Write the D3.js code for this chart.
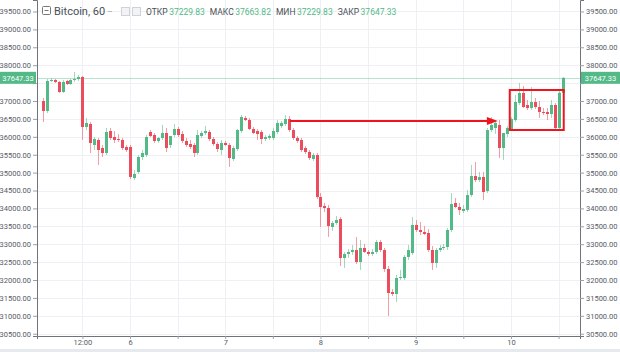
<!DOCTYPE html>
<html>
<head>
<meta charset="utf-8">
<script src="https://cdn.jsdelivr.net/npm/d3@7"></script>
<style>
  body { margin: 0; background: #fff; }
  svg { display: block; font-family: Roboto, sans-serif; }
</style>
</head>
<body>
<div id="container"></div>
<script>
// hourly BTC candles, 5 Jun 02:00 .. 10 Jun 13:00 (UTC)
const firstBar = '2021-06-05T02:00'
const lastBar = '2021-06-10T13:00'

const open = [
  37000, 36721, 37559, 37587, 37531, 37251, 37559, 37475, 37587, 37614,
  37670, 36274, 36358, 35771, 35911, 35687, 35548, 36162, 35995, 35939,
  35911, 35715, 35715, 34849, 35017, 35436, 35492, 36134, 36050, 35883,
  35967, 36106, 35771, 36050, 36218, 36078, 35883, 35799, 35771, 35548,
  36022, 36106, 36134, 35939, 35799, 35631, 35827, 35771, 35380, 35659,
  36162, 36525, 36469, 36218, 36162, 36134, 35939, 35967, 35967, 36134,
  36302, 36358, 36497, 36190, 35967, 35911, 35687, 35576, 35380, 35492,
  34319, 34068, 34012, 33481, 33593, 33704, 32615, 32727, 32783, 32838,
  32503, 32894, 32783, 32727, 32783, 33062, 32838, 32308, 31665, 31609,
  32056, 32056, 32643, 32755, 33537, 33397, 33341, 33313, 32838, 32475,
  32838, 32894, 32922, 33397, 34151, 34040, 33928, 33956, 34374, 34905,
  34793, 34877, 34486, 36190, 36246, 36330, 35687, 36078, 36218, 36469,
  36944, 37223, 36888, 36804, 36972, 36832, 36693, 36693, 36637, 36888,
  36246, 37229.83
]
const high = [
  37084, 37614, 37642, 37614, 37559, 37587, 37587, 37614, 37810, 37726,
  37698, 36525, 36413, 35995, 35967, 35771, 36246, 36246, 36162, 36078,
  35967, 35771, 35771, 35073, 35492, 35631, 36050, 36190, 36106, 35995,
  36330, 36246, 35967, 36358, 36274, 36162, 35967, 35911, 35827, 36190,
  36162, 36302, 36190, 35995, 35855, 35911, 35883, 35827, 35743, 36218,
  36609, 36581, 36525, 36274, 36218, 36190, 36050, 36078, 36246, 36469,
  36441, 36609, 36581, 36246, 36022, 35967, 35743, 35631, 35548, 35548,
  34430, 34151, 34095, 33649, 33788, 33760, 32783, 32866, 32978, 33202,
  33117, 33006, 32838, 32866, 33117, 33117, 32894, 32392, 31749, 32140,
  32280, 32699, 32978, 33760, 33676, 33621, 33509, 33425, 32950, 32894,
  32978, 33006, 33453, 34430, 34291, 34151, 34095, 34514, 35213, 35296,
  35017, 35017, 36246, 36553, 36469, 36469, 35911, 36302, 36553, 37168,
  37503, 37419, 37028, 37391, 37084, 37000, 36804, 36804, 37028, 36944,
  37279, 37663.82
]
const low = [
  36413, 36665, 37531, 37503, 37223, 37223, 37447, 37447, 37531, 37559,
  35911, 36190, 35548, 35631, 35213, 35436, 35492, 35911, 35827, 35855,
  35631, 35576, 34821, 34793, 34961, 35352, 35436, 35995, 35827, 35827,
  35911, 35576, 35687, 35995, 35995, 35827, 35715, 35659, 35436, 35492,
  35967, 36050, 35883, 35743, 35576, 35492, 35743, 35157, 35324, 35603,
  36106, 36441, 36190, 36078, 35911, 35799, 35883, 35911, 35911, 36078,
  36246, 36302, 36134, 35911, 35827, 35576, 35520, 35352, 35324, 34263,
  33481, 33900, 33202, 33369, 33537, 32392, 32336, 32615, 32699, 32447,
  32280, 32755, 32671, 32671, 32727, 32783, 32224, 30995, 31553, 31386,
  32001, 32001, 32559, 32699, 33341, 33257, 33257, 32783, 32280, 32336,
  32783, 32838, 32838, 33341, 34012, 33816, 33872, 33900, 34319, 34738,
  34738, 34235, 34430, 36134, 36078, 35408, 35352, 35995, 36162, 36413,
  36888, 36804, 36749, 36749, 36776, 36525, 36609, 36469, 36525, 36218,
  36218, 37229.83
]
const close = [
  36721, 37559, 37587, 37531, 37251, 37531, 37475, 37587, 37614, 37670,
  36274, 36386, 35827, 35939, 35631, 35548, 36134, 35967, 35911, 35911,
  35687, 35631, 34877, 34961, 35436, 35548, 35995, 36022, 35883, 35967,
  36106, 35687, 36022, 36218, 36050, 35883, 35771, 35715, 35548, 36050,
  36106, 36162, 35939, 35799, 35659, 35827, 35771, 35408, 35687, 36190,
  36553, 36469, 36218, 36106, 36078, 35939, 35995, 36022, 36162, 36386,
  36386, 36497, 36190, 35967, 35883, 35631, 35576, 35408, 35492, 34319,
  34040, 34012, 33509, 33593, 33676, 32615, 32727, 32783, 32838, 32503,
  32894, 32783, 32727, 32783, 33062, 32838, 32308, 31637, 31609, 32056,
  32084, 32643, 32838, 33537, 33397, 33341, 33285, 32838, 32475, 32838,
  32894, 32922, 33397, 34123, 34040, 33956, 33984, 34374, 34905, 34793,
  34877, 34458, 36190, 36330, 36386, 35687, 36106, 36246, 36497, 36972,
  37223, 36832, 36804, 36972, 36832, 36693, 36665, 36637, 36888, 36246,
  37229.83, 37647.33
]

const priceTicks = [30500, 31000, 31500, 32000, 32500, 33000, 33500, 34000, 34500,
  35000, 35500, 36000, 36500, 37000, 37500, 38000, 38500, 39000, 39500]
const dayTicks = ['2021-06-05T12:00', '2021-06-06T00:00', '2021-06-07T00:00',
  '2021-06-08T00:00', '2021-06-09T00:00', '2021-06-10T00:00']
const dayLabels = ['12:00', '6', '7', '8', '9', '10']

const symbol = 'Bitcoin, 60'
const legendNames = ['ОТКР', 'МАКС', 'МИН', 'ЗАКР']
const legendValues = [37229.83, 37663.82, 37229.83, 37647.33]
const lastPrice = 37647.33

// hand-drawn annotations
const arrow = { from: '2021-06-07T16:18', to: '2021-06-09T20:42', price: 36455 }
const box = { from: '2021-06-09T23:42', to: '2021-06-10T13:18', top: 37307, bottom: 36190 }

let width = 620, height = 352,
  plot = { left: 37, right: 580, top: 0, bottom: 336 }

const up = '#53b987', down = '#eb4d5c', textCol = '#555b66', axisCol = '#6f747c'
const parse = d3.utcParse('%Y-%m-%dT%H:%M')

let t0 = parse(firstBar), t1 = parse(lastBar)
let times = d3.utcHour.range(t0, d3.utcHour.offset(t1, 1))
let bars = times.map((t, i) => ({ t, o: open[i], h: high[i], l: low[i], c: close[i] }))

let xScale = d3.scaleUtc()
  .domain([new Date(+t0 - 1.44 * 36e5), new Date(+t1 + 4.4 * 36e5)])
  .range([plot.left, plot.right])
let yScale = d3.scaleLinear().domain([30436, 39821]).range([plot.bottom, plot.top])

let svg = d3.select('#container').append('svg')
  .attr('width', width).attr('height', height)

svg.append('rect').attr('y', 349).attr('width', width).attr('height', 3).attr('fill', '#e6eaef')

svg.append('clipPath').attr('id', 'clip').append('rect')
  .attr('x', plot.left).attr('y', plot.top)
  .attr('width', plot.right - plot.left).attr('height', plot.bottom - plot.top)

// grid
let grid = svg.append('g').attr('stroke', '#eef0f3').attr('shape-rendering', 'crispEdges')
grid.selectAll('line.h').data(priceTicks).join('line')
  .attr('x1', plot.left).attr('x2', plot.right)
  .attr('y1', d => Math.round(yScale(d)) + 0.5).attr('y2', d => Math.round(yScale(d)) + 0.5)
let halfDays = d3.utcHour.every(12).range(xScale.domain()[0], xScale.domain()[1])
grid.selectAll('line.v').data(halfDays).join('line')
  .attr('x1', d => Math.round(xScale(d)) + 0.5).attr('x2', d => Math.round(xScale(d)) + 0.5)
  .attr('y1', plot.top).attr('y2', plot.bottom)

let body = svg.append('g').attr('clip-path', 'url(#clip)')

// last price line
body.append('line')
  .attr('x1', plot.left).attr('x2', plot.right)
  .attr('y1', Math.round(yScale(lastPrice)) + 0.5).attr('y2', Math.round(yScale(lastPrice)) + 0.5)
  .attr('stroke', up).attr('stroke-opacity', 0.4)

// candles
let candle = body.selectAll('g.bar').data(bars).join('g')
  .attr('fill', d => d.c >= d.o ? up : down)
  .attr('stroke', d => d.c >= d.o ? up : down)
candle.append('line')
  .attr('x1', d => Math.round(xScale(d.t)) + 0.5).attr('x2', d => Math.round(xScale(d.t)) + 0.5)
  .attr('y1', d => yScale(d.h)).attr('y2', d => yScale(d.l))
  .attr('stroke-opacity', 0.55)
candle.append('rect')
  .attr('stroke', 'none')
  .attr('x', d => Math.round(xScale(d.t)) - 1)
  .attr('width', 3)
  .attr('y', d => yScale(Math.max(d.o, d.c)))
  .attr('height', d => Math.max(1, Math.abs(yScale(d.o) - yScale(d.c))))

// annotations
let ay = Math.round(yScale(arrow.price))
let ax1 = xScale(parse(arrow.from)), ax2 = xScale(parse(arrow.to))
body.append('line')
  .attr('x1', ax1).attr('x2', ax2 - 8).attr('y1', ay).attr('y2', ay)
  .attr('stroke', '#f0141e').attr('stroke-width', 2)
body.append('path')
  .attr('d', `M${ax2},${ay} L${ax2 - 11},${ay - 4} L${ax2 - 11},${ay + 4} Z`)
  .attr('fill', '#f0141e')
body.append('rect')
  .attr('x', xScale(parse(box.from))).attr('y', yScale(box.top))
  .attr('width', xScale(parse(box.to)) - xScale(parse(box.from)))
  .attr('height', yScale(box.bottom) - yScale(box.top))
  .attr('fill', 'none').attr('stroke', '#f0141e').attr('stroke-width', 2)

// axes
let fmt = d3.format('.2f')
let yRight = d3.axisRight(yScale).tickValues(priceTicks).tickFormat(fmt).tickSize(4).tickPadding(2)
let yLeft = d3.axisLeft(yScale).tickValues(priceTicks).tickFormat(fmt).tickSize(4).tickPadding(2)
let xAxis = d3.axisBottom(xScale).tickValues(halfDays).tickSize(3).tickPadding(1)
  .tickFormat(d => {
    let k = dayTicks.findIndex(s => +parse(s) === +d)
    return k < 0 ? '' : dayLabels[k]
  })

function style(sel) {
  sel.selectAll('.domain').attr('stroke', axisCol)
  sel.selectAll('.tick line').attr('stroke', '#9aa0a8')
  sel.selectAll('text').attr('fill', textCol).attr('font-size', '7.5px')
    .attr('font-family', 'Roboto, sans-serif')
}
// price labels hidden under the last-price badge
function hideCovered(sel) {
  sel.selectAll('.tick text')
    .attr('display', d => Math.abs(yScale(d) - yScale(lastPrice)) < 10 ? 'none' : null)
}
svg.append('g').attr('transform', `translate(${plot.right},0)`).call(yRight).call(style).call(hideCovered)
svg.append('g').attr('transform', `translate(${plot.left},0)`).call(yLeft).call(style).call(hideCovered)
svg.append('g').attr('transform', `translate(0,${plot.bottom})`).call(xAxis).call(style)

// last price labels on both scales
let ly = yScale(lastPrice)
;[[plot.right + 1, width - plot.right - 1], [0, plot.left - 1]].forEach(([x, w]) => {
  svg.append('rect').attr('x', x).attr('y', ly - 6).attr('width', w).attr('height', 12).attr('fill', up)
  svg.append('text').attr('x', x + w / 2).attr('y', ly + 3).attr('text-anchor', 'middle')
    .attr('fill', '#fff').attr('font-size', '7.5px').text(fmt(lastPrice))
})

// legend
let lg = svg.append('g')
lg.append('rect').attr('x', 42.5).attr('y', 6.5).attr('width', 8).attr('height', 8)
  .attr('fill', '#fff').attr('stroke', '#777').attr('rx', 1)
lg.append('line').attr('x1', 44.5).attr('x2', 48.5).attr('y1', 10.5).attr('y2', 10.5).attr('stroke', '#777')
lg.append('text').attr('x', 54).attr('y', 15).attr('font-size', '11px').attr('fill', '#4a4f57').text(symbol)
lg.append('line').attr('x1', 108).attr('x2', 112).attr('y1', 11.5).attr('y2', 11.5).attr('stroke', '#bbb')
;[121, 132].forEach(x => {
  lg.append('rect').attr('x', x + 0.5).attr('y', 7.5).attr('width', 8).attr('height', 8)
    .attr('fill', '#f2f3f5').attr('stroke', '#cfd3d8')
})
let lx = 146
legendNames.forEach((name, i) => {
  let a = lg.append('text').attr('x', lx).attr('y', 15).attr('font-size', '8.5px').attr('fill', '#4a4f57').text(name)
  lx += a.node().getComputedTextLength() + 1.5
  let b = lg.append('text').attr('x', lx).attr('y', 15).attr('font-size', '8.5px').attr('fill', up).text(fmt(legendValues[i]))
  lx += b.node().getComputedTextLength() + 5
})
</script>
</body>
</html>
